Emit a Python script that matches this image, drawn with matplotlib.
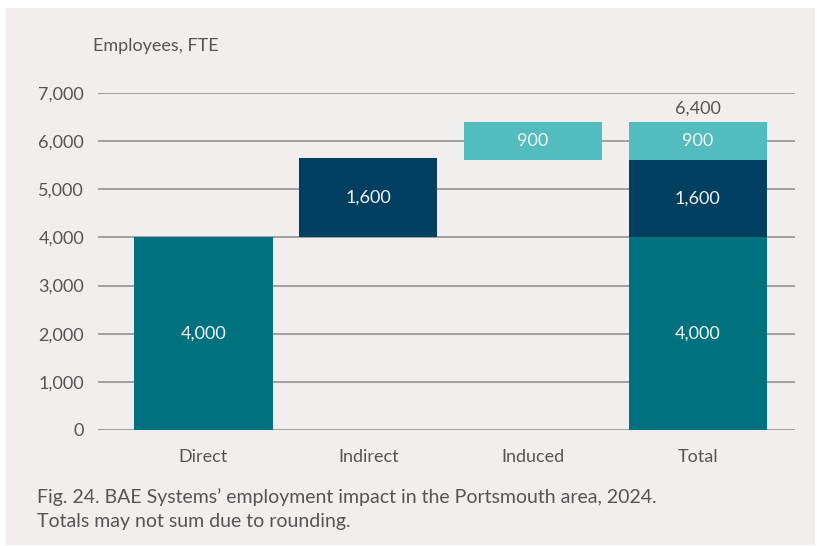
import matplotlib
matplotlib.use("Agg")
import matplotlib.pyplot as plt
from matplotlib.patches import Rectangle

plt.rcParams['font.family'] = ['Lato', 'DejaVu Sans']

categories = ["Direct", "Indirect", "Induced", "Total"]
# waterfall pieces (base)
wf_bases = [0, 4000, 5610]
wf_heights = [4000, 1650, 790]
wf_labels = ["4,000", "1,600", "900"]
# total stack
total_parts = [4000, 1610, 790]
total_label = "6,400"
yticks = [0, 1000, 2000, 3000, 4000, 5000, 6000, 7000]

colors = ["#00727f", "#003f5f", "#52bcbe"]
bg = "#f2eeed"
txt = "#555555"

fig = plt.figure(figsize=(8.17, 5.46), dpi=100)
fig.patch.set_facecolor("white")
fig.patches.append(Rectangle((6/817, 1 - 545/546), (815 - 6)/817, (545 - 8)/546,
                             transform=fig.transFigure, facecolor=bg, edgecolor="none", zorder=-10))

ax = fig.add_axes([98/817, 1 - 430/546, (795 - 98)/817, (430 - 93)/546])
ax.set_facecolor("none")
width = 0.84

for i in range(3):
    ax.bar(i, wf_heights[i], bottom=wf_bases[i], width=width, color=colors[i], zorder=3)
    ax.text(i, wf_bases[i] + wf_heights[i] / 2 + 5, wf_labels[i], ha="center", va="center",
            color="#f4f4f4", fontsize=13, zorder=4)

bottom = 0
for j, v in enumerate(total_parts):
    ax.bar(3, v, bottom=bottom, width=width, color=colors[j], zorder=3)
    ax.text(3, bottom + v / 2 + 5, wf_labels[j], ha="center", va="center",
            color="#f4f4f4", fontsize=13, zorder=4)
    bottom += v
ax.text(3, bottom + 110, total_label, ha="center", va="bottom", color=txt, fontsize=13, zorder=4)

ax.set_xlim(-0.64, 3.59)
ax.set_ylim(0, 7000)
ax.set_yticks(yticks)
ax.set_yticklabels([f"{v:,}" for v in yticks])
ax.set_xticks(range(4))
ax.set_xticklabels(categories)
ax.tick_params(axis="both", length=0, labelsize=13, colors=txt)
ax.tick_params(axis="y", pad=10)
ax.tick_params(axis="x", pad=14)
ax.grid(axis="y", color="#8c8c8c", linewidth=1.1, zorder=1)
ax.set_axisbelow(True)
for s in ax.spines.values():
    s.set_visible(False)

fig.text(93/817, 1 - 46/546, "Employees, FTE", ha="left", va="center", color=txt, fontsize=13)
fig.text(37/817, 1 - 497.5/546, "Fig. 24. BAE Systems’ employment impact in the Portsmouth area, 2024.",
         ha="left", va="center", color=txt, fontsize=14)
fig.text(37/817, 1 - 521/546, "Totals may not sum due to rounding.",
         ha="left", va="center", color=txt, fontsize=14)

fig.savefig("out.png", dpi=100, facecolor=fig.get_facecolor())
